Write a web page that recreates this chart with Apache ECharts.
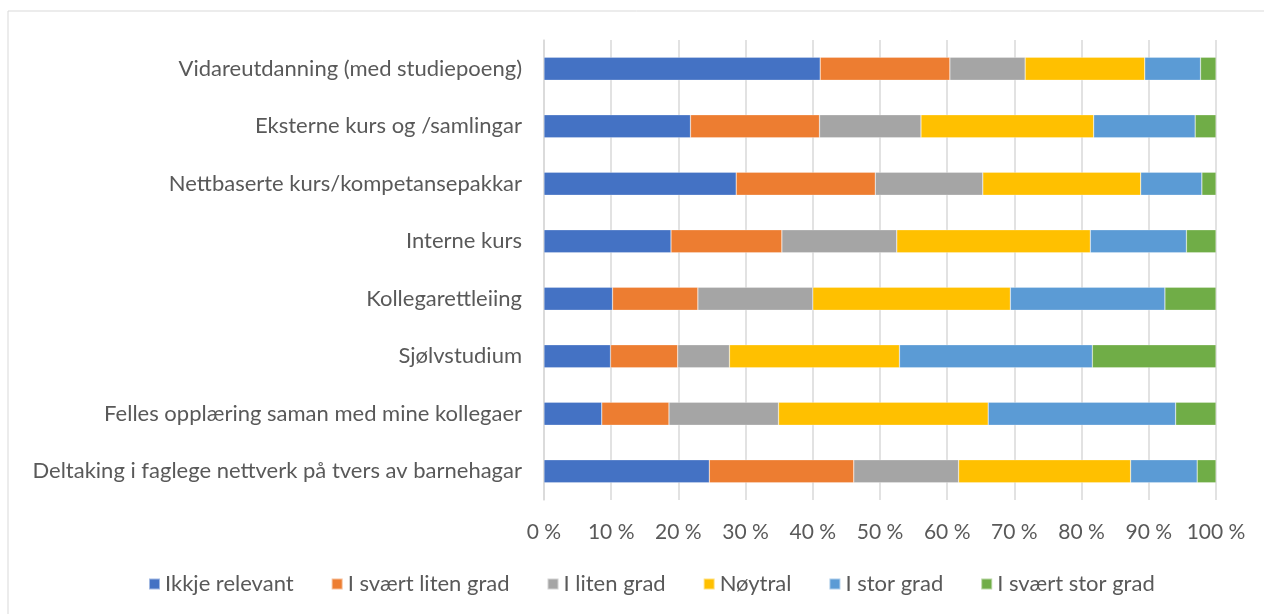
<!DOCTYPE html>
<html>
<head>
<meta charset="utf-8">
<script src="https://cdn.jsdelivr.net/npm/echarts@6/dist/echarts.min.js"></script>
<style>
  html, body { margin: 0; padding: 0; background: #fff; }
  #main { width: 1264px; height: 614px; }
</style>
</head>
<body>
<div id="main"></div>
<script>
// kategoriar, ovanfrå og ned
let categories = [
    'Vidareutdanning (med studiepoeng)',
    'Eksterne kurs og /samlingar',
    'Nettbaserte kurs/kompetansepakkar',
    'Interne kurs',
    'Kollegarettleiing',
    'Sjølvstudium',
    'Felles opplæring saman med mine kollegaer',
    'Deltaking i faglege nettverk på tvers av barnehagar'
];
let seriesNames = ['Ikkje relevant', 'I svært liten grad', 'I liten grad', 'Nøytral', 'I stor grad', 'I svært stor grad'];
let colors = ['#4472c4', '#ed7d31', '#a5a5a5', '#ffc000', '#5b9bd5', '#70ad47'];

// prosentdel per kategori (same rekkefølgje som categories)
let ikkjeRelevant = [41.1, 21.8, 28.6, 18.9, 10.2, 9.9, 8.6, 24.6];
let svartLiten = [19.3, 19.2, 20.7, 16.5, 12.7, 10.0, 10.0, 21.5];
let liten = [11.2, 15.1, 16.0, 17.1, 17.1, 7.7, 16.3, 15.6];
let noytral = [17.8, 25.7, 23.5, 28.8, 29.4, 25.3, 31.2, 25.6];
let stor = [8.3, 15.1, 9.1, 14.3, 23.0, 28.7, 27.9, 9.9];
let svartStor = [2.3, 3.1, 2.1, 4.4, 7.6, 18.4, 6.0, 2.8];

let values = [ikkjeRelevant, svartLiten, liten, noytral, stor, svartStor];
let font = 'Lato';

let series = seriesNames.map((name, i) => {
    return {
        name: name,
        type: 'bar',
        stack: 'total',
        barWidth: 23,
        itemStyle: {color: colors[i], borderColor: 'rgba(255,255,255,0.5)', borderWidth: 0.5},
        data: values[i].slice().reverse()
    }
});

let chart = echarts.init(document.getElementById('main'));
chart.setOption({
    animation: false,
    textStyle: {fontFamily: font},
    graphic: [{
        type: 'rect',
        shape: {x: 8, y: 11, width: 1400, height: 800},
        style: {fill: 'none', stroke: '#d9d9d9', lineWidth: 1}
    }],
    grid: {left: 544, right: 48, top: 40, bottom: 114},
    legend: {
        bottom: 14,
        left: 143,
        itemWidth: 11,
        itemHeight: 11,
        itemGap: 37,
        icon: 'rect',
        textStyle: {fontSize: 22, color: '#595959', fontFamily: font}
    },
    xAxis: {
        type: 'value',
        min: 0,
        max: 100,
        interval: 10,
        axisLine: {show: false},
        axisTick: {show: false},
        splitLine: {lineStyle: {color: '#d9d9d9', width: 1.5}},
        axisLabel: {
            formatter: '{value} %',
            fontSize: 21,
            color: '#595959',
            margin: 22
        }
    },
    yAxis: {
        type: 'category',
        data: categories.slice().reverse(),
        axisLine: {lineStyle: {color: '#d9d9d9', width: 1.5}},
        axisTick: {show: false},
        axisLabel: {fontSize: 22, color: '#595959', margin: 22}
    },
    series: series
});
</script>
</body>
</html>
